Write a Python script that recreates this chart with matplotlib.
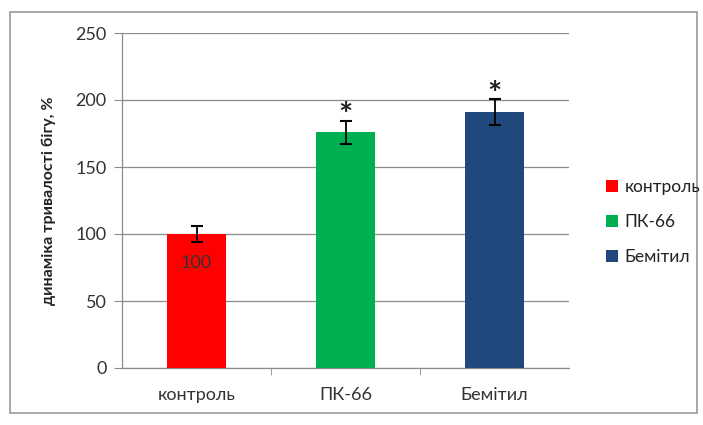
import matplotlib
matplotlib.use("Agg")
import matplotlib.pyplot as plt
from matplotlib.patches import Rectangle, Patch

categories = ["контроль", "ПК-66", "Бемітил"]
values = [100, 176, 191]
errors = [6, 8.5, 9.5]
colors = ["#FF0000", "#00B050", "#1F497D"]
value_labels = ["100", "", ""]
stars = ["", "*", "*"]
yticks = [0, 50, 100, 150, 200, 250]
ylabel = "динаміка тривалості бігу, %"

plt.rcParams['font.family'] = ['Lato', 'DejaVu Sans']

fig = plt.figure(figsize=(7.03, 4.25), dpi=100)
ax = fig.add_axes([122/703, 1 - 368/425, (569-122)/703, (368-33)/425])

x = list(range(len(categories)))
bars = ax.bar(x, values, width=0.4, color=colors, zorder=3)
ax.errorbar(x, values, yerr=errors, fmt='none', ecolor='black', elinewidth=1.3,
            capsize=4, capthick=1.5, zorder=4)

for xi, v, e, s in zip(x, values, errors, stars):
    if s:
        ax.text(xi, v + e + 3, s, ha='center', va='center', fontsize=24, fontweight='bold',
                color='#222222', zorder=5)
for xi, lab in zip(x, value_labels):
    if lab:
        ax.text(xi, 78, lab, ha='center', va='center', fontsize=13, color='#333333', zorder=5)

ax.set_xlim(-0.5, len(categories) - 0.5)
ax.set_ylim(0, 250)
ax.set_yticks(yticks)
ax.set_yticklabels([str(t) for t in yticks], fontsize=13, color='#333333')
ax.yaxis.grid(True, color='#8C8C8C', linewidth=0.9, zorder=0)
ax.set_axisbelow(True)
ax.set_xticks(x)
ax.set_xticklabels(categories, fontsize=13, color='#333333')
ax.tick_params(axis='x', length=0, pad=14)
ax.set_xticks([0.5, 1.5], minor=True)
ax.tick_params(axis='x', which='minor', length=5, color='#8C8C8C', direction='out')
ax.tick_params(axis='y', length=6, color='#8C8C8C', direction='out', pad=5)
for side in ['top', 'right']:
    ax.spines[side].set_visible(False)
for side in ['left', 'bottom']:
    ax.spines[side].set_color('#8C8C8C')
    ax.spines[side].set_linewidth(0.9)
ax.set_ylabel(ylabel, fontsize=11.5, fontweight='bold', color='#222222', labelpad=14)

handles = [Patch(facecolor=c) for c in colors]
leg = fig.legend(handles, categories, loc='center left', bbox_to_anchor=(590/703, 1 - 222/425),
                 frameon=False, fontsize=12.5, handlelength=0.7, handleheight=0.7,
                 handletextpad=0.4, labelspacing=1.1)
for t in leg.get_texts():
    t.set_color('#222222')

fig.patches.append(Rectangle((10/703, 12/425), (697-10)/703, (413-12)/425, transform=fig.transFigure,
                             fill=False, edgecolor='#9A9A9A', linewidth=1.2))

fig.savefig("out.png", dpi=100)
